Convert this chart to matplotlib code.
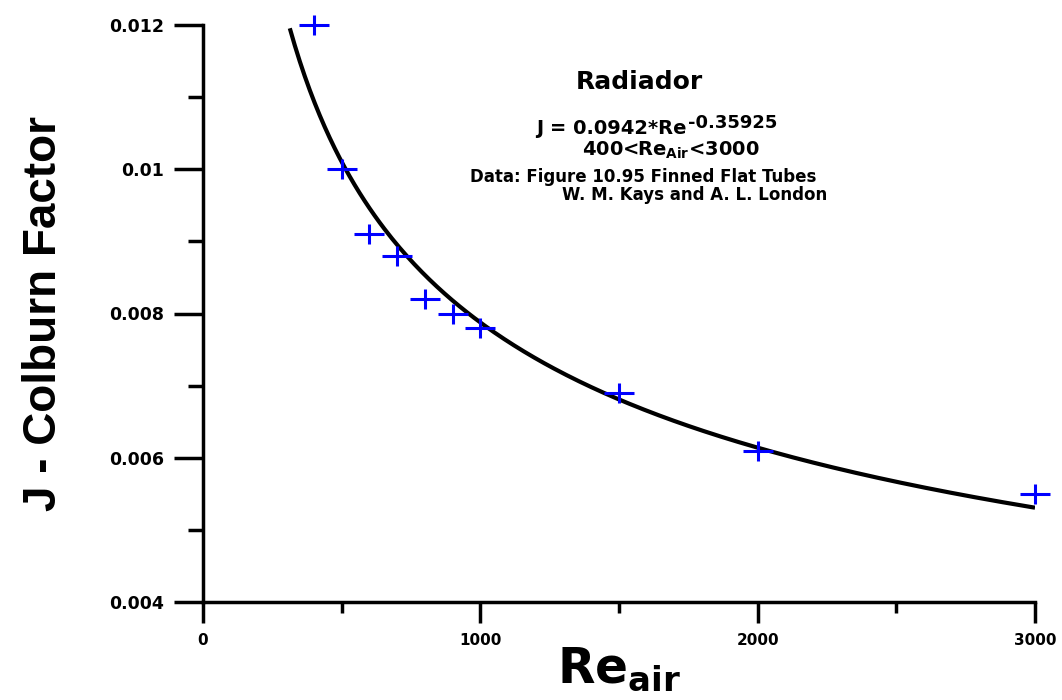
import numpy as np
import matplotlib
matplotlib.use("Agg")
import matplotlib.pyplot as plt
from matplotlib.path import Path

# data
re_air = [400, 500, 600, 700, 800, 900, 1000, 1500, 2000, 3000]
j_factor = [0.0120, 0.0100, 0.0091, 0.0088, 0.0082, 0.0080, 0.0078, 0.0069, 0.0061, 0.0055]

# fitted curve, as written on the chart: J = 0.0942*Re^-0.35925
fit_a = 0.0942
fit_b = -0.35925
fit_re_min = 313
fit_re_max = 3000

x_ticks = [0, 1000, 2000, 3000]
x_tick_labels = ["0", "1000", "2000", "3000"]
y_ticks = [0.004, 0.006, 0.008, 0.010, 0.012]
y_tick_labels = ["0.004", "0.006", "0.008", "0.01", "0.012"]

plt.rcParams['font.family'] = ['DejaVu Sans']
plt.rcParams['mathtext.fontset'] = 'dejavusans'

W, H = 1062, 700
fig = plt.figure(figsize=(W / 100, H / 100), dpi=100)
ax = fig.add_axes([203 / W, 98 / H, 832 / W, 577 / H])

# fitted curve
re_fit = np.linspace(fit_re_min, fit_re_max, 300)
ax.plot(re_fit, fit_a * re_fit ** fit_b, color='black', lw=3, solid_capstyle='butt', zorder=2)

# wide "+" marker like the original
plus = Path([(-1, 0), (1, 0), (0, -0.68), (0, 0.68)],
            [Path.MOVETO, Path.LINETO, Path.MOVETO, Path.LINETO])
ax.plot(re_air, j_factor, linestyle='none', marker=plus, markersize=22,
        markeredgewidth=2.2, color='#0000ff', clip_on=False, zorder=3)

ax.set_xlim(0, 3000)
ax.set_ylim(0.004, 0.012)
for s in ['top', 'right']:
    ax.spines[s].set_visible(False)
for s in ['left', 'bottom']:
    ax.spines[s].set_linewidth(2.5)

ax.set_xticks(x_ticks)
ax.set_xticklabels(x_tick_labels)
ax.set_xticks([500, 1500, 2500], minor=True)
ax.set_yticks(y_ticks)
ax.set_yticklabels(y_tick_labels)
ax.set_yticks([0.005, 0.007, 0.009, 0.011], minor=True)

ax.tick_params(axis='x', which='major', length=15, width=2.5, pad=7, labelsize=11)
ax.tick_params(axis='x', which='minor', length=8, width=2.5)
ax.tick_params(axis='y', which='major', length=21, width=2.5, pad=7, labelsize=12.5)
ax.tick_params(axis='y', which='minor', length=11, width=2.5)
for lab in ax.get_xticklabels() + ax.get_yticklabels():
    lab.set_fontweight('bold')

ax.set_xlabel(r'$\mathbf{Re}_{\mathbf{air}}$', fontsize=35)
ax.xaxis.set_label_coords(0.5, (602 - 645) / 577)
ax.set_ylabel('J - Colburn Factor', fontsize=33, fontweight='bold',
              family=['Liberation Sans', 'DejaVu Sans'])
ax.yaxis.set_label_coords((66 - 203) / 832, 0.5)


def fx(px):
    return (px - 203) / 832


def fy(py):
    return (602 - py) / 577


tk = dict(transform=ax.transAxes, fontweight='bold', color='black')
ax.text(fx(639), fy(82), 'Radiador', fontsize=18, ha='center', va='center', **tk)
ax.text(fx(687), fy(134), 'J = 0.0942*Re', fontsize=14, ha='right', va='baseline', **tk)
ax.text(fx(688), fy(128), '-0.35925', fontsize=13, ha='left', va='baseline', **tk)
ax.text(fx(671), fy(156), r'400<Re$_{\mathbf{Air}}$<3000', fontsize=14, ha='center',
        va='baseline', **tk)
ax.text(fx(643), fy(182), 'Data: Figure 10.95 Finned Flat Tubes', fontsize=12,
        ha='center', va='baseline', **tk)
ax.text(fx(695), fy(200), 'W. M. Kays and A. L. London', fontsize=12,
        ha='center', va='baseline', **tk)

fig.savefig('out.png', dpi=100)
